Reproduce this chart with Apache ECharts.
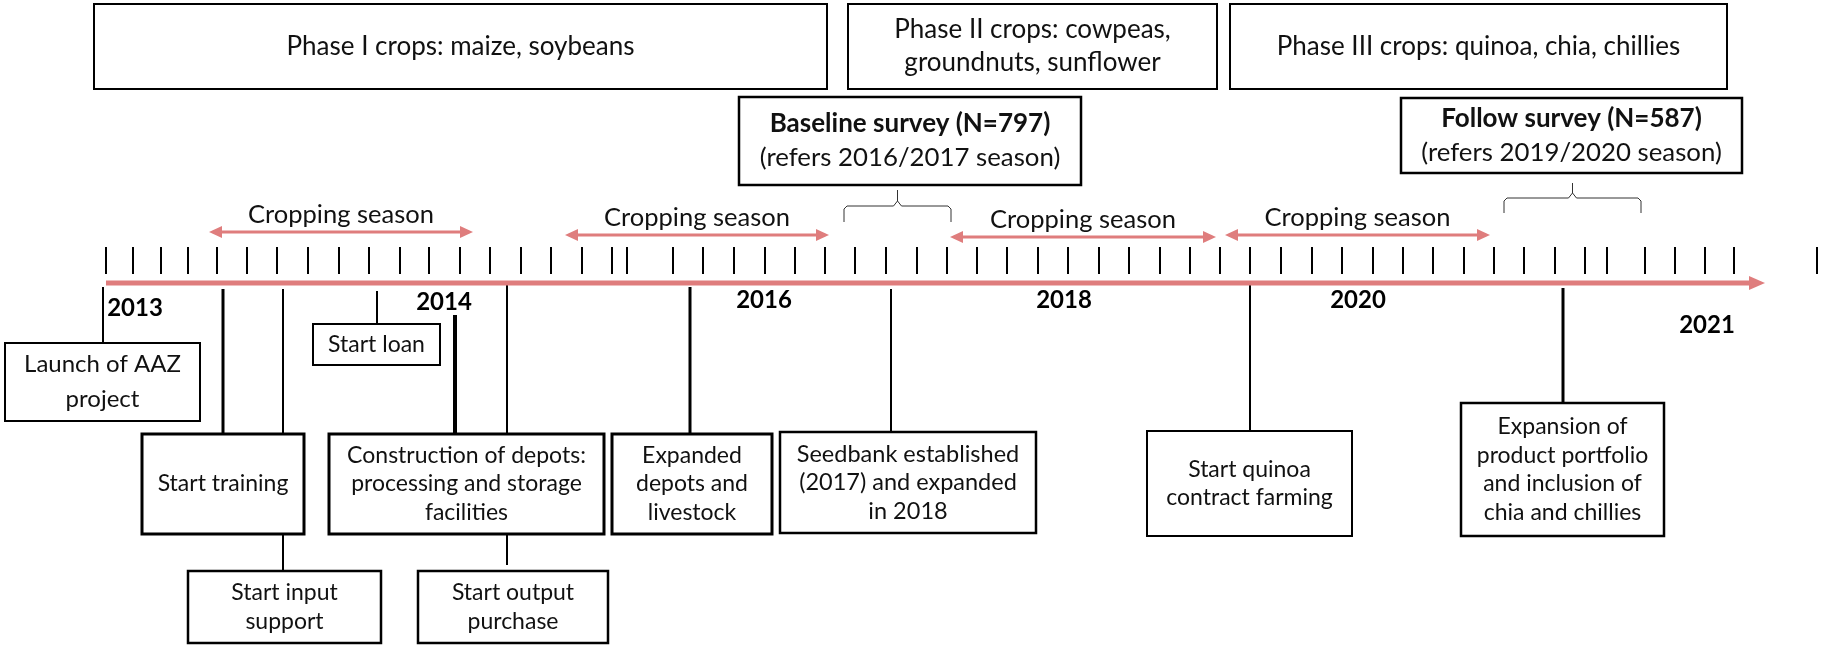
<!DOCTYPE html>
<html><head><meta charset="utf-8">
<script src="https://cdn.jsdelivr.net/npm/echarts@6/dist/echarts.min.js"></script>
<style>html,body{margin:0;padding:0;background:#fff}#c{width:1822px;height:645px}</style>
</head><body><div id="c"></div>
<script>
// ---------- DATA (diagram units: x = position along the timeline, y = vertical lane) ----------
const tickPositions = [106,133,161,188,217,247,277,308,339,369,400,429,460,490,521,551,582,612,627,673,703,734,765,795,825,855,886,917,947,977,1007,1038,1068,1099,1129,1160,1190,1220,1250,1281,1312,1342,1373,1403,1433,1464,1494,1524,1555,1585,1607,1645,1675,1705,1734,1817];
const timelineStart = [106];
const timelineEnd = [1765];
const timelineRow = [283];

const yearLabels = ['2013','2014','2016','2018','2020','2021'];
const yearX = [135,444,764,1064,1358,1707];
const yearRow = [308,302,300,300,300,325];

const phaseLabels = ['Phase I crops: maize, soybeans','Phase II crops: cowpeas,\ngroundnuts, sunflower','Phase III crops: quinoa, chia, chillies'];
const phaseStart = [94,848,1230];
const phaseEnd = [827,1217,1727];
const phaseTop = [4,4,4];
const phaseBottom = [89,89,89];

const surveyTitles = ['Baseline survey (N=797)','Follow survey (N=587)'];
const surveyNotes = ['(refers 2016/2017 season)','(refers 2019/2020 season)'];
const surveyStart = [739,1401];
const surveyEnd = [1081,1742];
const surveyTop = [97,98];
const surveyBottom = [185,173];
const braceStart = [844,1504];
const braceEnd = [951,1641];
const braceTop = [190,183];
const braceBottom = [222,213];

const seasonLabels = ['Cropping season','Cropping season','Cropping season','Cropping season'];
const seasonStart = [209,565,950,1225];
const seasonEnd = [473,829,1216,1490];
const seasonRow = [232,235,237,235];

const eventLabels = ['Launch of AAZ\nproject','Start loan','Start training','Construction of depots:\nprocessing and storage\nfacilities','Expanded\ndepots and\nlivestock','Seedbank established\n(2017) and expanded\nin 2018','Start quinoa\ncontract farming','Expansion of\nproduct portfolio\nand inclusion of\nchia and chillies','Start input\nsupport','Start output\npurchase'];
const eventLeft = [5,313,142,329,612,780,1147,1461,188,418];
const eventRight = [200,440,304,604,772,1036,1352,1664,381,608];
const eventTop = [343,324,434,434,434,432,431,403,571,571];
const eventBottom = [421,365,534,534,534,533,536,536,643,643];

const connectorX = [103,223,283,283,377,455,507,507,690,891,1250,1563];
const connectorFrom = [287,289,289,534,291,315,283,534,287,289,283,288];
const connectorTo = [343,434,434,571,324,434,434,565,434,432,431,403];

// ---------- STYLES ----------
const FONT = 'Lato, "Open Sans", sans-serif';
const RED = '#df7d7d';
const EV = 23;
const eventStyle = [
  {size:24, lh:35, bw:2}, {size:EV, lh:29, bw:2}, {size:EV, lh:29, bw:3}, {size:EV, lh:28.5, bw:3},
  {size:EV, lh:28.5, bw:3}, {size:23.5, lh:28.5, bw:2.5}, {size:EV, lh:28.5, bw:2}, {size:EV, lh:28.7, bw:2.5},
  {size:EV, lh:29, bw:2.5}, {size:EV, lh:29, bw:2.5}
];
const connectorWidth = [2,3,2,2,2,4,2,2,3,2,2,3];

function boxSeries(name, labels, L, T, R, B, styleFn, textFn) {
  return {
    type: 'custom', name, silent: true,
    encode: {x: [0, 2], y: [1, 3]},
    data: labels.map((_, i) => [L[i], T[i], R[i], B[i]]),
    renderItem: function (params, api) {
      const i = params.dataIndex;
      const p1 = api.coord([api.value(0), api.value(1)]);
      const p2 = api.coord([api.value(2), api.value(3)]);
      const st = styleFn(i);
      const txt = textFn(i);
      return {
        type: 'group',
        children: [
          {type: 'rect', shape: {x: p1[0], y: p1[1], width: p2[0] - p1[0], height: p2[1] - p1[1]},
           style: {fill: '#fff', stroke: '#000', lineWidth: st.bw}},
          {type: 'text', style: Object.assign({x: (p1[0] + p2[0]) / 2, y: (p1[1] + p2[1]) / 2 + (st.dy || 0),
            align: 'center', verticalAlign: 'middle', fill: '#111'}, txt)}
        ]
      };
    }
  };
}

const series = [];

// connectors (drawn first, under boxes)
series.push({
  type: 'custom', silent: true, encode: {x: 0, y: [1, 2]},
  data: connectorX.map((x, i) => [x, connectorFrom[i], connectorTo[i]]),
  renderItem: function (params, api) {
    const a = api.coord([api.value(0), api.value(1)]);
    const b = api.coord([api.value(0), api.value(2)]);
    return {type: 'line', shape: {x1: a[0], y1: a[1], x2: b[0], y2: b[1]},
      style: {stroke: '#000', lineWidth: connectorWidth[params.dataIndex]}};
  }
});

// ticks
series.push({
  type: 'custom', silent: true, encode: {x: 0},
  data: tickPositions.map(x => [x]),
  renderItem: function (params, api) {
    const a = api.coord([api.value(0), 247]);
    const b = api.coord([api.value(0), 274]);
    return {type: 'line', shape: {x1: a[0], y1: a[1], x2: b[0], y2: b[1]}, style: {stroke: '#000', lineWidth: 2}};
  }
});

// main timeline arrow
series.push({
  type: 'custom', silent: true, encode: {x: [0, 1], y: 2},
  data: timelineStart.map((s, i) => [s, timelineEnd[i], timelineRow[i]]),
  renderItem: function (params, api) {
    const a = api.coord([api.value(0), api.value(2)]);
    const b = api.coord([api.value(1), api.value(2)]);
    return {type: 'group', children: [
      {type: 'line', shape: {x1: a[0], y1: a[1], x2: b[0] - 14, y2: b[1]}, style: {stroke: RED, lineWidth: 5}},
      {type: 'polygon', shape: {points: [[b[0] - 16, b[1] - 7], [b[0], b[1]], [b[0] - 16, b[1] + 7]]}, style: {fill: RED}}
    ]};
  }
});

// cropping season double arrows
series.push({
  type: 'custom', silent: true, encode: {x: [0, 1], y: 2},
  data: seasonStart.map((s, i) => [s, seasonEnd[i], seasonRow[i]]),
  renderItem: function (params, api) {
    const a = api.coord([api.value(0), api.value(2)]);
    const b = api.coord([api.value(1), api.value(2)]);
    const hl = 13, hw = 6;
    return {type: 'group', children: [
      {type: 'line', shape: {x1: a[0] + hl - 2, y1: a[1], x2: b[0] - hl + 2, y2: b[1]}, style: {stroke: RED, lineWidth: 3}},
      {type: 'polygon', shape: {points: [[a[0] + hl, a[1] - hw], [a[0], a[1]], [a[0] + hl, a[1] + hw]]}, style: {fill: RED}},
      {type: 'polygon', shape: {points: [[b[0] - hl, b[1] - hw], [b[0], b[1]], [b[0] - hl, b[1] + hw]]}, style: {fill: RED}},
      {type: 'text', style: {text: seasonLabels[params.dataIndex], x: (a[0] + b[0]) / 2, y: a[1] - 17,
        align: 'center', verticalAlign: 'middle', font: '25.5px ' + FONT, fill: '#111'}}
    ]};
  }
});

// braces under survey boxes
series.push({
  type: 'custom', silent: true, encode: {x: [0, 1], y: [2, 3]},
  data: braceStart.map((s, i) => [s, braceEnd[i], braceTop[i], braceBottom[i]]),
  renderItem: function (params, api) {
    const s = api.coord([api.value(0), api.value(3)]);
    const e = api.coord([api.value(1), api.value(3)]);
    const t = api.coord([(api.value(0) + api.value(1)) / 2, api.value(2)]);
    const mid = (t[1] + s[1]) / 2;
    const c = t[0];
    return {type: 'polyline', shape: {points: [
      [s[0], s[1]], [s[0], mid + 3], [s[0] + 3, mid], [c - 4, mid], [c, mid - 5], [c, t[1]],
      [c, mid - 5], [c + 4, mid], [e[0] - 3, mid], [e[0], mid + 3], [e[0], e[1]]]},
      style: {stroke: '#333', lineWidth: 1, fill: null}};
  }
});

// phase boxes
series.push(boxSeries('phases', phaseLabels, phaseStart, phaseTop, phaseEnd, phaseBottom,
  i => ({bw: 2}),
  i => ({text: phaseLabels[i], font: '26px ' + FONT, lineHeight: 33})));

// survey boxes
series.push(boxSeries('surveys', surveyTitles, surveyStart, surveyTop, surveyEnd, surveyBottom,
  i => ({bw: 2.5}),
  i => ({text: '{b|' + surveyTitles[i] + '}\n{n|' + surveyNotes[i] + '}',
    rich: {b: {fontFamily: FONT, fontWeight: 'bold', fontSize: 26, lineHeight: 34, fill: '#111'},
           n: {fontFamily: FONT, fontSize: 25.8, lineHeight: 34, fill: '#111'}}})));

// event boxes
series.push(boxSeries('events', eventLabels, eventLeft, eventTop, eventRight, eventBottom,
  i => eventStyle[i],
  i => ({text: eventLabels[i], font: eventStyle[i].size + 'px ' + FONT, lineHeight: eventStyle[i].lh})));

// year labels
series.push({
  type: 'custom', silent: true, encode: {x: 0, y: 1},
  data: yearX.map((x, i) => [x, yearRow[i]]),
  renderItem: function (params, api) {
    const p = api.coord([api.value(0), api.value(1)]);
    return {type: 'text', style: {text: yearLabels[params.dataIndex], x: p[0], y: p[1],
      align: 'center', verticalAlign: 'middle', font: 'bold 24px ' + FONT, fill: '#000'}};
  }
});

const chart = echarts.init(document.getElementById('c'), null, {renderer: 'canvas'});
chart.setOption({
  animation: false,
  backgroundColor: '#fff',
  grid: {left: 0, right: 0, top: 0, bottom: 0},
  xAxis: {type: 'value', min: 0, max: 1822, show: false},
  yAxis: {type: 'value', min: 0, max: 645, inverse: true, show: false},
  series: series
});
</script></body></html>
